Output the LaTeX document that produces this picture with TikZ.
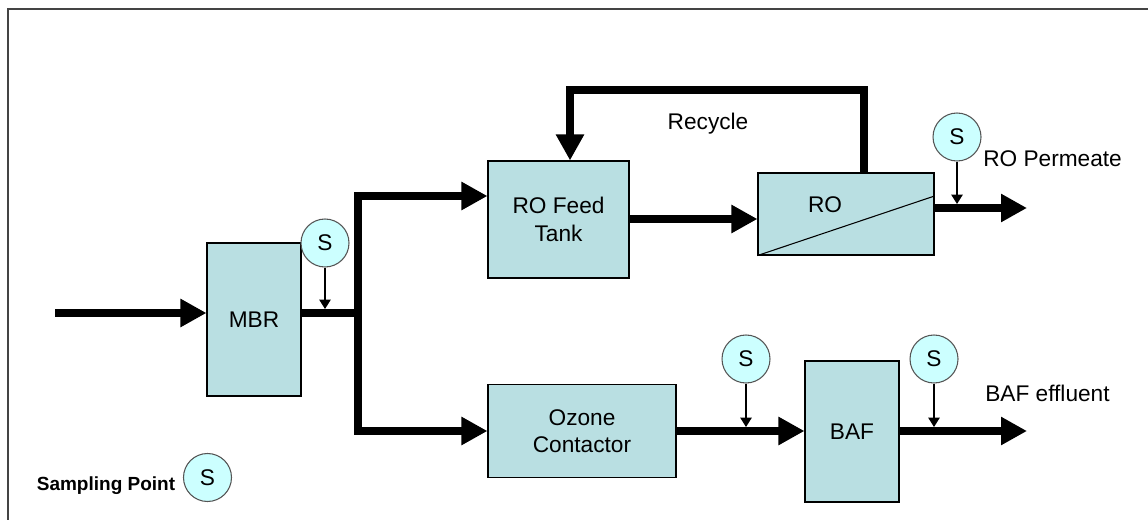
\documentclass[tikz,border=0pt]{standalone}
\usepackage{fontspec}
\setmainfont{Liberation Sans}
\usetikzlibrary{arrows.meta}
\definecolor{boxfill}{HTML}{B9DFE2}
\definecolor{sfill}{HTML}{CCFFFF}
\definecolor{sdraw}{HTML}{555555}
\definecolor{frame}{HTML}{444444}
\tikzset{
  unit/.style={draw=black, line width=0.8pt, fill=boxfill, inner sep=0pt,
    font=\fontsize{17}{20.5}\selectfont, align=center},
  flow/.style={line width=6pt, line join=miter, -{Triangle[length=19.5pt,width=20pt]}},
  flowline/.style={line width=6pt, line join=miter},
  spoint/.style={circle, draw=sdraw, line width=0.8pt, fill=sfill, minimum size=36pt,
    inner sep=0pt, font=\fontsize{17}{20}\selectfont},
  sarrow/.style={line width=1.1pt, -{Triangle[length=7pt,width=8.5pt]}, shorten >=3pt},
  lbl/.style={font=\fontsize{17}{20}\selectfont, inner sep=0pt},
}
\begin{document}
\begin{tikzpicture}[x=0.75pt,y=-0.75pt]
\useasboundingbox (0,0) rectangle (1148,520);
\draw[frame, line width=1.5pt] (8,520) -- (8,9) -- (1148,9);

% units
\node[unit, minimum width=70.5pt, minimum height=114.75pt] (mbr) at (254,319.5) {MBR};
\node[unit, minimum width=105.75pt, minimum height=87.75pt] (feed) at (558.5,219.5) {RO Feed\\Tank};
\node[unit, minimum width=132pt, minimum height=61.5pt] (ro) at (846,214) {};
\node[lbl] (rolabel) at (825,205) {RO};
\node[unit, minimum width=141pt, minimum height=69.75pt] (ozone) at (582,431) {Ozone\\Contactor};
\node[unit, minimum width=70.5pt, minimum height=105.75pt] (baf) at (852,431.5) {BAF};
\draw[line width=0.8pt] (ro.south west) -- (ro.east |- 0,196);

% coordinates
\coordinate (in) at (55,313);
\coordinate (j) at (358,313);
\coordinate (jt) at (358,196);
\coordinate (jb) at (358,431);
\coordinate (perm) at (1027,208);
\coordinate (eff) at (1027,431);
\coordinate (rc1) at (864,90.5);
\coordinate (rc2) at (570,90.5);

% flows
\draw[flow] (in) -- (in -| mbr.west);
\draw[flowline] (in -| mbr.east) -- (j);
\draw[line width=6pt, line join=miter, {Triangle[length=19.5pt,width=20pt]}-{Triangle[length=19.5pt,width=20pt]}]
  (jt -| feed.west) -- (jt) -- (jb) -- (jb -| ozone.west);
\draw[flow] (feed.east |- 0,219) -- (ro.west |- 0,219);
\draw[flow] (perm -| ro.east) -- (perm);
\draw[flow] (rc1 |- ro.north) -- (rc1) -- (rc2) -- (rc2 |- feed.north);
\draw[flow] (ozone.east |- eff) -- (baf.west |- eff);
\draw[flow] (baf.east |- eff) -- (eff);

% sampling points
\node[spoint] (s1) at (325,243) {S};
\node[spoint] (s2) at (957,137) {S};
\node[spoint] (s3) at (746,359) {S};
\node[spoint] (s4) at (934,359) {S};
\draw[sarrow] (s1.south) -- (s1.south |- j);
\draw[sarrow] (s2.south) -- (s2.south |- perm);
\draw[sarrow] (s3.south) -- (s3.south |- eff);
\draw[sarrow] (s4.south) -- (s4.south |- eff);

% labels
\node[lbl] (recycle) at (708,124) {Recycle};
\node[lbl, anchor=west] (permlabel) at (983,159) {RO Permeate};
\node[lbl, anchor=west] (efflabel) at (985,393) {BAF effluent};

% legend
\node[font=\bfseries\fontsize{14.25}{17}\selectfont, inner sep=0pt] (legtext) at (106,486) {Sampling Point};
\node[spoint] (legs) at (207.5,477.5) {S};
\end{tikzpicture}
\end{document}
